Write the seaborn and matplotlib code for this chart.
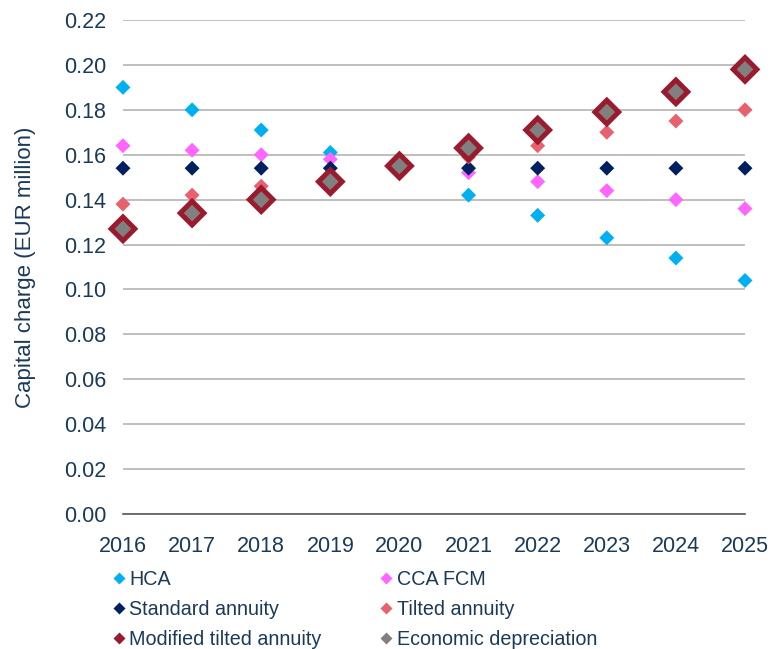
import numpy as np
import pandas as pd
import matplotlib
matplotlib.use("Agg")
import matplotlib.pyplot as plt
import seaborn as sns
from matplotlib.lines import Line2D

years = [2016, 2017, 2018, 2019, 2020, 2021, 2022, 2023, 2024, 2025]
hca = [0.190, 0.180, 0.171, 0.161, 0.152, 0.142, 0.133, 0.123, 0.114, 0.104]
cca_fcm = [0.164, 0.162, 0.160, 0.158, 0.156, 0.152, 0.148, 0.144, 0.140, 0.136]
standard_annuity = [0.154, 0.154, 0.154, 0.154, 0.154, 0.154, 0.154, 0.154, 0.154, 0.154]
tilted_annuity = [0.138, 0.142, 0.146, 0.150, 0.155, 0.159, 0.164, 0.170, 0.175, 0.180]
modified_tilted = [0.127, 0.134, 0.140, 0.148, 0.155, 0.163, 0.171, 0.179, 0.188, 0.198]
economic_dep = [0.127, 0.134, 0.140, 0.148, 0.155, 0.163, 0.171, 0.179, 0.188, 0.198]

series_names = ["HCA", "CCA FCM", "Standard annuity", "Tilted annuity",
                "Modified tilted annuity", "Economic depreciation"]
series_values = [hca, cca_fcm, standard_annuity, tilted_annuity, modified_tilted, economic_dep]
colors = ["#00B0F0", "#FF66FF", "#002060", "#E8616F", "#9B1B2E", "#808080"]
sizes = [58, 58, 58, 58, 245, 72]

df = pd.DataFrame({
    "year": np.tile(years, len(series_names)),
    "value": np.concatenate(series_values),
    "series": np.repeat(series_names, len(years)),
})

sns.set_theme(style="white")
plt.rcParams["font.family"] = ["Liberation Sans", "DejaVu Sans"]
text_color = "#1B3A57"

fig = plt.figure(figsize=(7.71, 6.49), dpi=100)
ax = fig.add_axes([0.1595, 0.208, 0.8068, 0.7612])

for name, col, s in zip(series_names, colors, sizes):
    sub = df[df["series"] == name]
    sns.scatterplot(data=sub, x="year", y="value", ax=ax, marker="D", s=s,
                    color=col, edgecolor="none", linewidth=0, legend=False,
                    clip_on=False, zorder=3)

ax.set_xlim(2016, 2025)
ax.set_ylim(0, 0.22)
ax.set_yticks(np.arange(0, 0.2201, 0.02))
ax.set_yticklabels([f"{v:.2f}" for v in np.arange(0, 0.2201, 0.02)])
ax.set_xticks(years)
ax.set_xticklabels([str(y) for y in years])
ax.yaxis.grid(True, color="#BFBFBF", linewidth=1.4)
ax.xaxis.grid(False)
for sp in ["left", "right", "top"]:
    ax.spines[sp].set_visible(False)
ax.spines["bottom"].set_color("#595959")
ax.spines["bottom"].set_linewidth(1.2)
ax.tick_params(axis="x", direction="inout", length=11, width=1.2, color="#595959",
               labelsize=15.5, labelcolor=text_color, pad=10)
ax.tick_params(axis="y", length=0, labelsize=15.5, labelcolor=text_color, pad=12)
ax.set_xlabel("")
ax.set_ylabel("Capital charge (EUR million)", fontsize=16, color=text_color, labelpad=20)

# row-major legend order (matplotlib fills columns first)
order = [0, 2, 4, 1, 3, 5]
handles = [Line2D([0], [0], marker="D", linestyle="none", markersize=6.5,
                  markerfacecolor=colors[i], markeredgecolor="none") for i in order]
labels = [series_names[i] for i in order]
leg = fig.legend(handles, labels, loc="upper left", bbox_to_anchor=(0.118, 0.1495),
                 ncol=2, frameon=False, fontsize=14.2, handletextpad=0.05,
                 columnspacing=2.75, labelspacing=0.56, handlelength=1.0)
for t in leg.get_texts():
    t.set_color(text_color)

fig.savefig("out.png", dpi=100)
